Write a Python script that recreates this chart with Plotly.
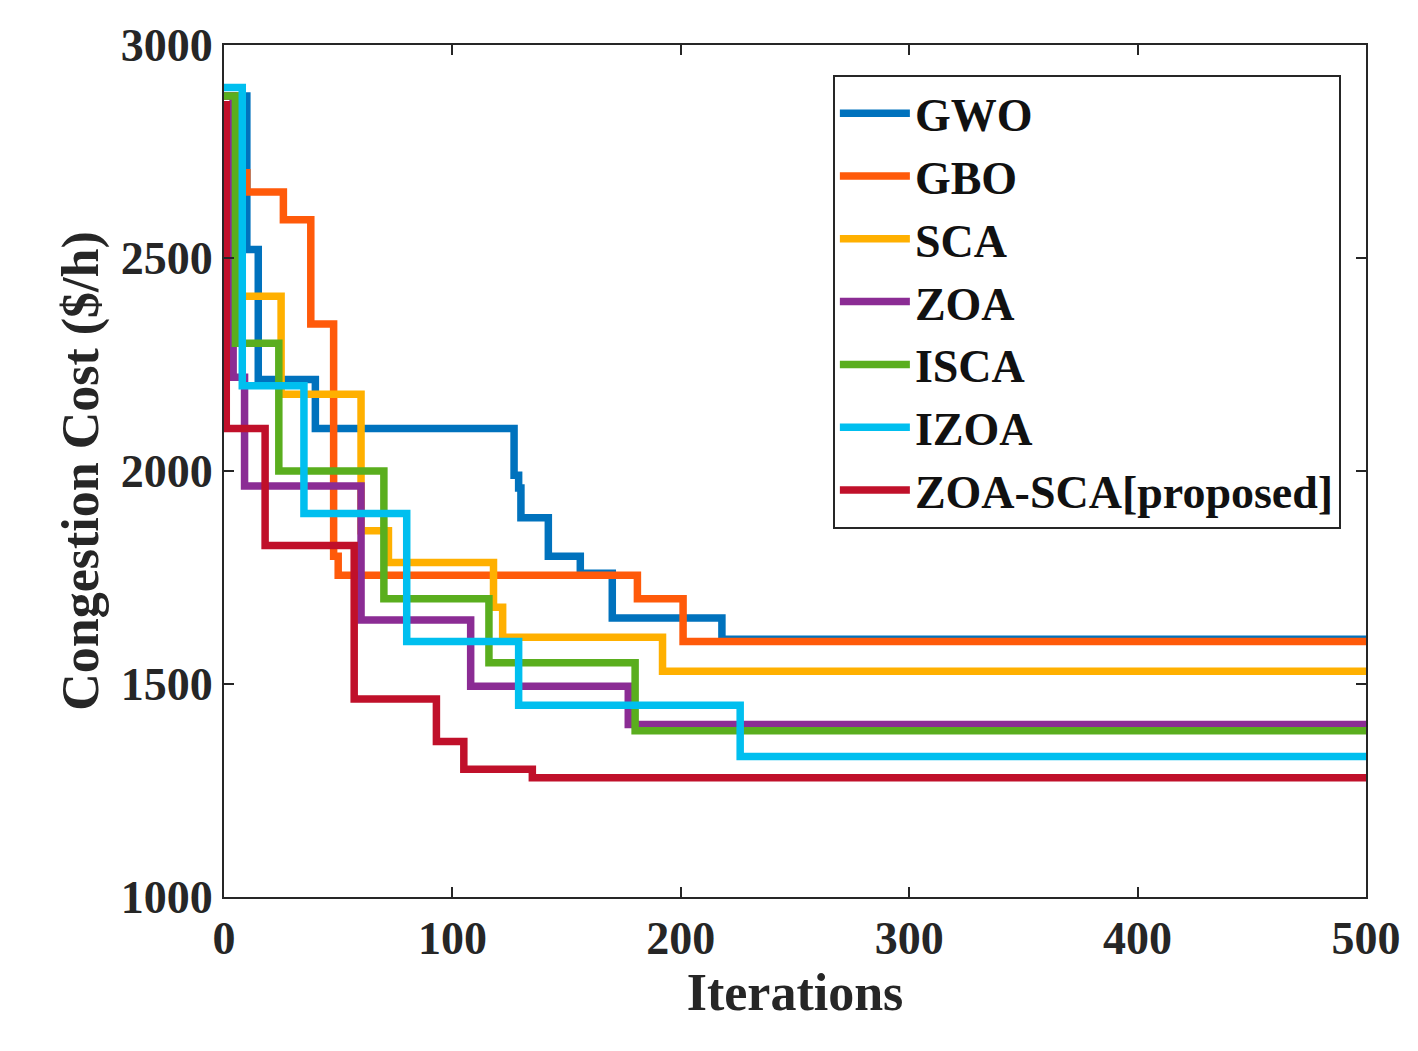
import plotly.graph_objects as go

names = ["GWO", "GBO", "SCA", "ZOA", "ISCA", "IZOA", "ZOA-SCA[proposed]"]
colors = ["#0072BD", "#FF5A0A", "#FFB000", "#8B2C94", "#5AAE1E", "#00BFEF", "#C0102A"]

gwo_x = [0, 10, 15, 40, 127, 129, 130, 142, 156, 170, 218, 500]
gwo_y = [2880, 2520, 2215, 2100, 1990, 1960, 1890, 1800, 1760, 1655, 1605, 1605]
gbo_x = [0, 8, 10, 26, 38, 48, 50, 181, 201, 500]
gbo_y = [2880, 2700, 2655, 2590, 2345, 1800, 1755, 1700, 1600, 1600]
sca_x = [0, 5, 25, 60, 72, 118, 122, 192, 500]
sca_y = [2880, 2410, 2180, 1860, 1785, 1680, 1610, 1530, 1530]
zoa_x = [0, 4, 9, 60, 108, 177, 500]
zoa_y = [2880, 2220, 1965, 1650, 1495, 1405, 1405]
isca_x = [0, 5, 24, 70, 116, 180, 500]
isca_y = [2880, 2300, 2000, 1700, 1550, 1390, 1390]
izoa_x = [0, 8, 35, 80, 129, 226, 500]
izoa_y = [2900, 2200, 1900, 1600, 1450, 1330, 1330]
prop_x = [0, 1, 18, 57, 93, 105, 135, 500]
prop_y = [2860, 2100, 1825, 1465, 1365, 1300, 1280, 1280]

xs = [gwo_x, gbo_x, sca_x, zoa_x, isca_x, izoa_x, prop_x]
ys = [gwo_y, gbo_y, sca_y, zoa_y, isca_y, izoa_y, prop_y]

FONT = "Liberation Serif"
fig = go.Figure()
for n, c, x, y in zip(names, colors, xs, ys):
    fig.add_trace(go.Scatter(x=x, y=y, name="<b>" + n + "</b>", mode="lines", line_shape="hv",
                             line=dict(color=c, width=7.5)))

axis_common = dict(showline=True, linecolor="#262626", linewidth=2, mirror="ticks",
                   ticks="inside", ticklen=10, tickwidth=2, tickcolor="#262626",
                   showgrid=False, zeroline=False,
                   tickfont=dict(family=FONT, size=46, color="#262626", weight="bold"))
fig.update_xaxes(range=[0, 500], dtick=100, title=dict(text="<b>Iterations</b>",
                 font=dict(family=FONT, size=52, color="#262626"), standoff=8), **axis_common)
fig.update_yaxes(range=[1000, 3000], dtick=500, title=dict(text="<b>Congestion Cost ($/h)</b>",
                 font=dict(family=FONT, size=52, color="#262626"), standoff=6), **axis_common)
fig.update_layout(
    width=1418, height=1051, plot_bgcolor="white", paper_bgcolor="white",
    margin=dict(l=216, r=60, t=37, b=162, autoexpand=False),
    font=dict(family=FONT, color="#262626"),
    legend=dict(x=0.978, xanchor="right", y=0.965, yanchor="top",
                bgcolor="white", bordercolor="#262626", borderwidth=2,
                font=dict(family=FONT, size=46, color="#111"), itemwidth=70,
                tracegroupgap=0),
)
fig.write_html("out.html")
